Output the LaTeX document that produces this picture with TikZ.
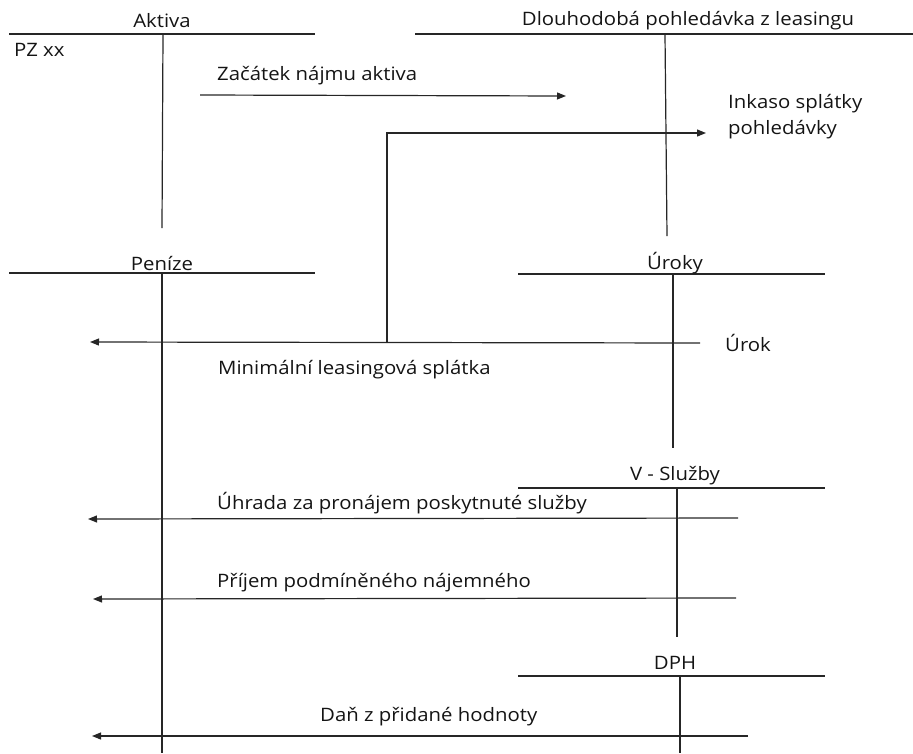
\documentclass[tikz,border=0pt]{standalone}
\usepackage{fontspec}
\setmainfont{Open Sans}[FakeStretch=1.1]
\usetikzlibrary{arrows.meta}
\begin{document}
\begin{tikzpicture}[x=1pt,y=-1pt,
  ln/.style={line width=1.2pt,black!85},
  arr/.style={ln,-{Triangle[length=9pt,width=7pt]}},
  lbl/.style={font=\fontsize{18.5}{22}\selectfont,inner sep=0pt,text=black!92},
  lblL/.style={lbl,anchor=west}]
\useasboundingbox (0,0) rectangle (913,753);
% T-account Aktiva
\coordinate (akL) at (9,34); \coordinate (akR) at (315,34);
\coordinate (akT) at (163,34); \coordinate (akB) at (162,228);
\draw[ln] (akL) -- (akR); \draw[ln] (akT) -- (akB);
\node[lbl] (aktiva) at (162,21) {Aktiva};
\node[lblL] (pz) at (14,50) {PZ xx};
% Dlouhodoba pohledavka
\coordinate (dpL) at (415,34); \coordinate (dpR) at (913,34);
\coordinate (dpT) at (665,34); \coordinate (dpB) at (667,236);
\draw[ln] (dpL) -- (dpR); \draw[ln] (dpT) -- (dpB);
\node[lbl] (dlouh) at (688,21) {Dlouhodobá pohledávka z leasingu};
% Penize
\coordinate (peL) at (9,273); \coordinate (peR) at (315,273);
\coordinate (peT) at (162,273); \coordinate (peB) at (162,753);
\draw[ln] (peL) -- (peR); \draw[ln] (peT) -- (peB);
\node[lbl] (penize) at (162,263) {Peníze};
% Uroky
\coordinate (urL) at (518,274); \coordinate (urR) at (825,274);
\coordinate (urT) at (673,274); \coordinate (urB) at (673,448);
\draw[ln] (urL) -- (urR); \draw[ln] (urT) -- (urB);
\node[lbl] (uroky) at (675,263) {Úroky};
% V - Sluzby
\coordinate (vsL) at (518,488); \coordinate (vsR) at (825,488);
\coordinate (vsT) at (677,488); \coordinate (vsB) at (677,637);
\draw[ln] (vsL) -- (vsR); \draw[ln] (vsT) -- (vsB);
\node[lbl] (sluzby) at (675,476) {V - Služby};
% DPH
\coordinate (dphL) at (518,676); \coordinate (dphR) at (825,676);
\coordinate (dphT) at (680,676); \coordinate (dphB) at (680,753);
\draw[ln] (dphL) -- (dphR); \draw[ln] (dphT) -- (dphB);
\node[lbl] (dph) at (675,663) {DPH};
% Arrow: Zacatek najmu aktiva
\coordinate (zaS) at (200,95); \coordinate (zaE) at (566,96);
\draw[arr] (zaS) -- (zaE);
\node[lblL] (zacatek) at (217,76) {Začátek nájmu aktiva};
% Arrow: Minimalni leasingova splatka
\coordinate (miS) at (700,343); \coordinate (miE) at (90,342);
\coordinate (jn) at (387,343); \coordinate (jnT) at (387,133); \coordinate (inE) at (706,133);
\draw[arr] (miS) -- (miE);
\draw[arr] (jn) -- (jnT) -- (inE);
\node[lblL] (urok) at (725,343) {Úrok};
\node[lblL] (minim) at (218,370) {Minimální leasingová splátka};
\node[lblL] (inkaso) at (728,104) {Inkaso splátky};
\node[lblL] (pohl) at (728,130) {pohledávky};
% Arrow: Uhrada
\coordinate (uhS) at (738,518); \coordinate (uhE) at (88,519);
\draw[arr] (uhS) -- (uhE);
\node[lblL] (uhrada) at (217,503) {Úhrada za pronájem poskytnuté služby};
% Arrow: Prijem
\coordinate (prS) at (736,598); \coordinate (prE) at (93,599);
\draw[arr] (prS) -- (prE);
\node[lblL] (prijem) at (217,583) {Příjem podmíněného nájemného};
% Arrow: Dan
\coordinate (daS) at (748,736); \coordinate (daE) at (92,736);
\draw[arr] (daS) -- (daE);
\node[lblL] (dan) at (320,717) {Daň z přidané hodnoty};
\end{tikzpicture}
\end{document}
